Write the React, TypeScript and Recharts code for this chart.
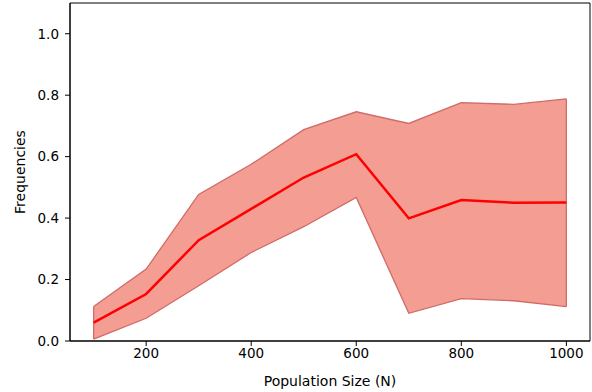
import React from 'react';
import { ComposedChart, Area, Line, XAxis, YAxis, ReferenceArea } from 'recharts';

// population sizes on the x axis
const sizes = [100, 200, 300, 400, 500, 600, 700, 800, 900, 1000];
// mean frequency and the band around it
const meanFreq = [0.06, 0.153, 0.328, 0.43, 0.532, 0.608, 0.399, 0.459, 0.45, 0.451];
const lowerFreq = [0.006, 0.074, 0.18, 0.288, 0.372, 0.467, 0.09, 0.138, 0.131, 0.112];
const upperFreq = [0.112, 0.234, 0.477, 0.575, 0.688, 0.746, 0.708, 0.776, 0.77, 0.788];

const xTicks = [200, 400, 600, 800, 1000];
const yTicks = [0, 0.2, 0.4, 0.6, 0.8, 1.0];
const xDomain = [55, 1045];
const yDomain = [0, 1.1];

const FILL = '#f49d93';
const EDGE = '#cf6b69';
const FONT = 'DejaVu Sans, sans-serif';

const rows = sizes.map((n, i) => ({
  n,
  mean: meanFreq[i],
  band: [lowerFreq[i], upperFreq[i]],
}));

// vertical closing edges of the band at both ends
const last = sizes.length - 1;
const leftEdge = [
  { n: sizes[0], edge: lowerFreq[0] },
  { n: sizes[0], edge: upperFreq[0] },
];
const rightEdge = [
  { n: sizes[last], edge: lowerFreq[last] },
  { n: sizes[last], edge: upperFreq[last] },
];

const tickStyle = { fill: '#000', fontSize: 13.5, fontFamily: FONT };

export default function App() {
  return (
    <div style={{ position: 'absolute', left: 0, top: 0, background: '#fff' }}>
      <ComposedChart width={592} height={392} data={rows} margin={{ top: 3, right: 2, bottom: 0, left: 0 }}>
        <XAxis
          dataKey="n"
          type="number"
          domain={xDomain}
          ticks={xTicks}
          allowDataOverflow
          stroke="#000"
          tick={tickStyle}
          tickSize={5}
          tickMargin={2}
          height={51}
          label={{ value: 'Population Size (N)', position: 'insideBottom', offset: 6, style: { fill: '#000', fontSize: 14, fontFamily: FONT } }}
        />
        <YAxis
          type="number"
          domain={yDomain}
          ticks={yTicks}
          allowDataOverflow
          stroke="#000"
          tick={tickStyle}
          tickSize={5}
          tickMargin={6}
          tickFormatter={(v: number) => v.toFixed(1)}
          width={70}
          label={{ value: 'Frequencies', angle: -90, position: 'insideLeft', offset: 20, style: { textAnchor: 'middle', fill: '#000', fontSize: 14, fontFamily: FONT } }}
        />
        <Area
          dataKey="band"
          type="linear"
          fill={FILL}
          fillOpacity={1}
          stroke={EDGE}
          strokeWidth={1.3}
          isAnimationActive={false}
          activeDot={false}
        />
        <Line data={leftEdge} dataKey="edge" type="linear" stroke={EDGE} strokeWidth={1.3} dot={false} isAnimationActive={false} />
        <Line data={rightEdge} dataKey="edge" type="linear" stroke={EDGE} strokeWidth={1.3} dot={false} isAnimationActive={false} />
        <Line dataKey="mean" type="linear" stroke="#ff0000" strokeWidth={2.5} dot={false} isAnimationActive={false} />
        {/* frame around the plot */}
        <ReferenceArea x1={xDomain[0]} x2={xDomain[1]} y1={yDomain[0]} y2={yDomain[1]} fill="none" fillOpacity={0} stroke="#000" strokeWidth={1} ifOverflow="visible" />
      </ComposedChart>
    </div>
  );
}
